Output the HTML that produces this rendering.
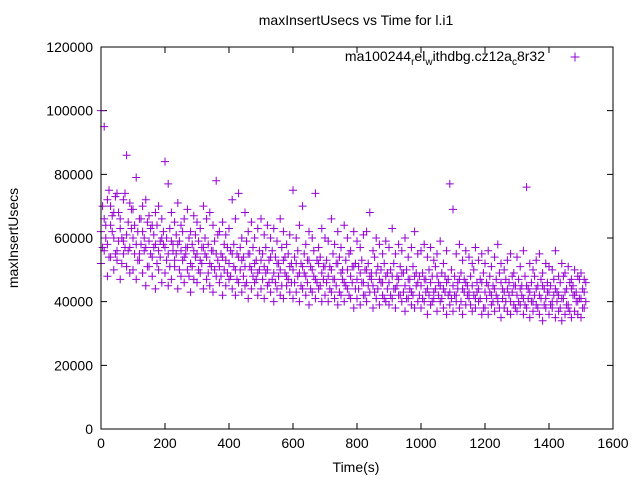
<!DOCTYPE html>
<html><head><meta charset="utf-8"><style>
body{margin:0;background:#fff}
svg{display:block;font-family:"Liberation Sans",sans-serif}
</style></head><body>
<svg id="chart" width="640" height="480" viewBox="0 0 640 480">
<rect width="640" height="480" fill="#fff"/>
<text x="356" y="25" font-size="14" text-anchor="middle">maxInsertUsecs vs Time for l.i1</text>
<text x="356" y="472" font-size="14" text-anchor="middle">Time(s)</text>
<text transform="translate(18,238) rotate(-90)" font-size="14" text-anchor="middle">maxInsertUsecs</text>
<g id="axes"></g>
<g id="points"></g>
<rect x="101" y="47" width="512" height="382" fill="none" stroke="#000" stroke-width="1"/>
<g>
<text x="545" y="61" font-size="14" text-anchor="end">ma100244<tspan font-size="10" dy="4">r</tspan><tspan dy="-4">el</tspan><tspan font-size="10" dy="4">w</tspan><tspan dy="-4">ithdbg.cz12a</tspan><tspan font-size="10" dy="4">c</tspan><tspan dy="-4">8r32</tspan></text>
<path d="M570.5 57h9M575 52.5v9" stroke="#9400d3" stroke-width="1"/>
</g>
</svg>
<script>
const xTicks=[0,200,400,600,800,1000,1200,1400,1600];
const yTicks=[0,20000,40000,60000,80000,100000,120000];
const times=[];for(let i=0;i<152;i++)times.push(i*10);
const s1=[100,95,72,70,68,74,66,72,86,71,69,79,66,70,72,67,64,68,70,66,84,77,68,65,71,64,66,69,62,67,65,63,70,66,68,64,78,62,65,61,63,72,66,74,60,68,62,65,60,63,66,61,64,60,63,59,66,62,58,61,75,60,64,70,58,62,60,74,57,63,60,59,66,58,62,57,64,60,56,62,59,57,61,62,68,56,60,58,55,59,57,63,55,58,56,60,54,57,62,55,56,58,54,57,53,55,59,52,56,77,69,55,58,53,56,54,52,57,53,55,52,56,51,54,58,52,50,53,55,49,54,51,56,76,52,50,53,55,49,52,51,50,56,48,52,49,51,47,50,48,49,47];
const s2=[62,66,58,64,60,56,63,59,61,57,60,58,55,62,57,59,54,58,56,60,57,55,59,53,58,56,54,57,52,56,55,53,57,54,52,56,55,51,54,53,52,55,50,54,53,51,55,50,52,49,53,51,50,54,49,52,50,53,48,51,50,52,49,51,48,53,50,47,52,49,51,48,50,47,52,49,46,50,48,51,47,49,46,50,48,45,49,47,46,48,46,48,44,47,49,45,47,43,48,46,45,47,44,46,43,48,45,44,46,43,45,42,47,44,46,43,45,41,44,46,43,45,42,44,41,46,43,44,40,45,42,44,41,45,43,40,44,42,45,41,43,40,44,42,41,43,39,44,42,40,41,43];
const s3=[52,56,48,54,50,53,47,55,51,49,50,47,53,49,45,51,48,44,50,46,49,45,47,51,44,48,46,50,43,47,46,49,44,47,45,43,48,46,42,45,47,44,42,46,43,45,41,44,46,42,44,41,45,43,40,44,42,41,45,43,41,43,40,44,42,39,43,41,44,40,42,40,43,41,39,42,40,44,41,38,41,39,42,40,43,38,41,39,42,40,39,41,38,42,40,37,41,39,38,40,38,40,36,39,41,37,40,38,36,39,37,40,38,36,39,41,37,38,40,36,38,36,39,37,40,35,38,37,36,39,37,39,36,38,35,37,39,36,34,38,36,38,35,37,34,36,38,35,37,36,35,38];
const s4=[70,64,75,62,73,68,60,74,65,69,64,62,66,60,65,63,61,64,59,62,60,63,58,61,59,62,57,60,58,61,59,57,60,58,56,59,61,55,58,57,56,58,55,57,54,59,55,57,53,56,55,57,53,56,54,52,57,54,55,52,54,56,52,55,53,51,56,53,54,51,53,51,55,52,54,50,53,55,51,52,51,53,50,52,49,54,51,50,52,49,50,52,48,51,49,50,47,51,49,48,49,47,50,48,51,46,49,48,47,50,48,46,49,47,45,48,50,46,47,49,46,48,45,47,49,44,47,46,48,45,47,45,48,44,46,48,45,47,44,46,45,47,43,46,48,44,46,45,43,47,44,46];
const s5=[57,60,54,67,55,59,52,57,56,63,55,53,58,56,51,55,57,52,54,58,53,51,56,55,50,53,55,48,51,54,50,52,55,49,51,50,53,48,50,49,48,51,47,50,48,46,51,48,47,50,47,49,46,47,46,48,45,49,47,46,46,48,45,49,46,44,48,46,45,47,46,44,47,45,43,47,45,42,46,44,44,46,42,45,47,43,44,46,41,44,42,44,45,42,43,41,44,42,45,42,41,43,42,40,44,42,41,43,42,41,42,44,40,43,42,39,42,43,41,38,41,43,40,42,38,41,40,42,43,38,40,42,39,41,40,42,38,41,39,43,39,42,40,38,41,39,37,42,40,41,38,40];
const NS='http://www.w3.org/2000/svg';
const X=t=>101+t/1600*512;
const Y=v=>429-v/120000*382;
const axes=document.getElementById('axes');
xTicks.forEach(t=>{
  const p=document.createElementNS(NS,'path');
  p.setAttribute('d',`M${X(t)} 429v-6M${X(t)} 47v6`);
  p.setAttribute('stroke','#000');
  
  
  axes.appendChild(p);
  const tx=document.createElementNS(NS,'text');
  tx.setAttribute('x',X(t));tx.setAttribute('y',448);
  tx.setAttribute('font-size','14');tx.setAttribute('text-anchor','middle');
  
  
  tx.textContent=t;axes.appendChild(tx);
});
yTicks.forEach(v=>{
  const p=document.createElementNS(NS,'path');
  p.setAttribute('d',`M101 ${Y(v)}h6M613 ${Y(v)}h-6`);
  p.setAttribute('stroke','#000');
  
  
  axes.appendChild(p);
  const tx=document.createElementNS(NS,'text');
  tx.setAttribute('x',93);tx.setAttribute('y',Y(v)+5);
  tx.setAttribute('font-size','14');tx.setAttribute('text-anchor','end');
  
  
  tx.textContent=v;axes.appendChild(tx);
});
const pts=document.getElementById('points');
let d='';
function add(t,v){const x=X(t),y=Y(v*1000);d+=`M${x-4} ${y}h8M${x} ${y-4}v8`;}
times.forEach((t,i)=>{add(t,s1[i]);add(t,s2[i]);add(t,s3[i]);add(t+5,s4[i]);add(t+5,s5[i]);});
const path=document.createElementNS(NS,'path');
path.setAttribute('d',d);
path.setAttribute('stroke','#9400d3');
path.setAttribute('stroke-width','1');
path.setAttribute('fill','none');


pts.appendChild(path);
</script>
</body></html>
